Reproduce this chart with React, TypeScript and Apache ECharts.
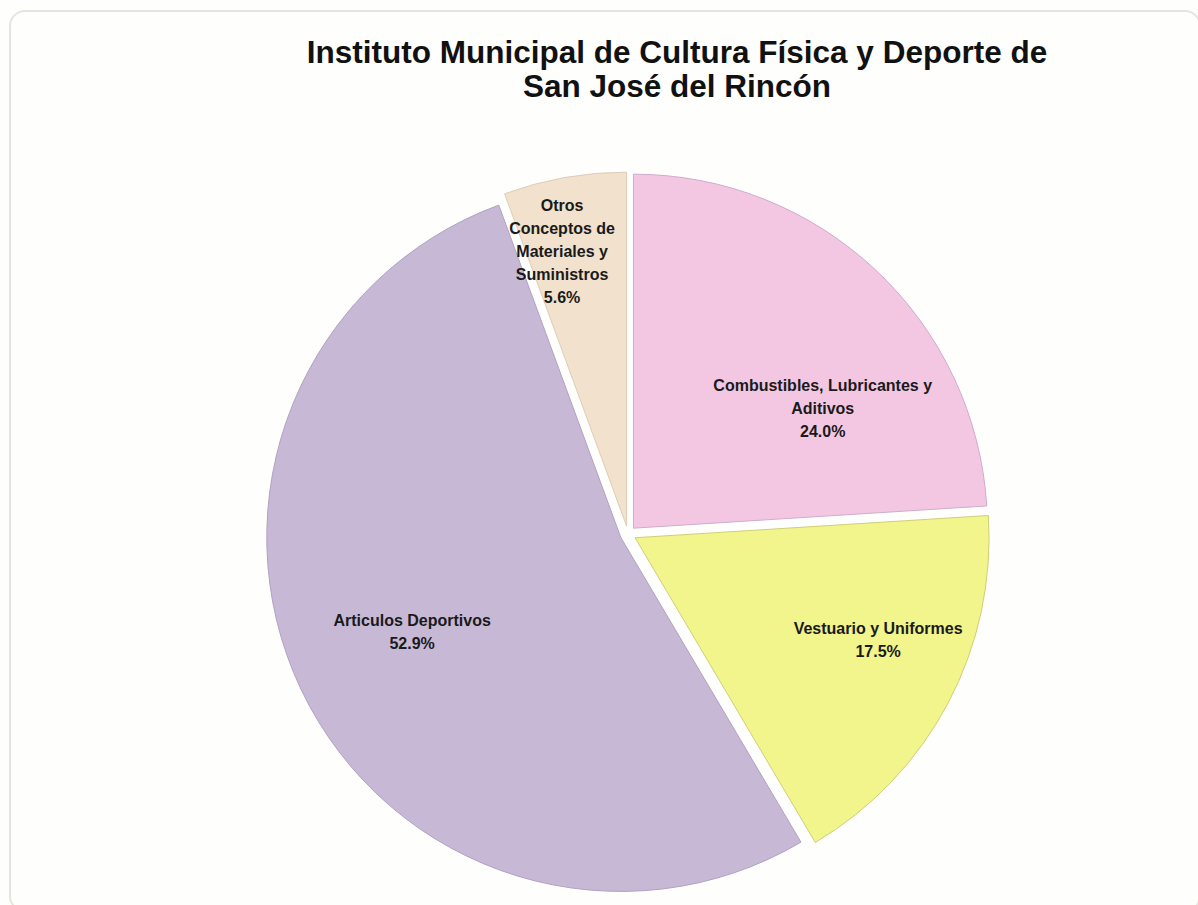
import React, { useEffect, useRef } from "react";
import * as echarts from "echarts";

const titleLines = [
  "Instituto Municipal de Cultura Física y Deporte de",
  "San José del Rincón",
];
const categories = [
  "Combustibles, Lubricantes y Aditivos",
  "Vestuario y Uniformes",
  "Articulos Deportivos",
  "Otros Conceptos de Materiales y Suministros",
];
const wrappedLabels = [
  "Combustibles, Lubricantes y\nAditivos",
  "Vestuario y Uniformes",
  "Articulos Deportivos",
  "Otros\nConceptos de\nMateriales y\nSuministros",
];
const percentages = [24.0, 17.5, 52.9, 5.6];

const colors = ["#F3C7E2", "#F2F48C", "#C7B9D6", "#F1E1CD"];
const borderColors = ["#cfaccb", "#cfcf78", "#b0a2c2", "#ddcdb8"];
const labelOffsets = [
  [66, 12],
  [84, 18],
  [-46, 17],
  [-33, -97],
];

export default function App() {
  const ref = useRef<HTMLDivElement>(null);
  useEffect(() => {
    const chart = echarts.init(ref.current!, null, { renderer: "svg" });
    chart.setOption({
      animation: false,
      backgroundColor: "#fefefd",
      title: {
        text: titleLines.join("\n"),
        left: 672,
        top: 30,
        textAlign: "center",
        textStyle: {
          fontFamily: "Liberation Sans, Arial, sans-serif",
          fontWeight: "bold",
          fontSize: 31.5,
          lineHeight: 34,
          color: "#111111",
        },
      },
      graphic: [
        {
          type: "rect",
          shape: { x: 10, y: 11, width: 1190, height: 900, r: 15 },
          style: { fill: "none", stroke: "#e6e4dc", lineWidth: 2 },
          silent: true,
        },
      ],
      series: [
        {
          type: "pie",
          center: [628, 534],
          radius: 354,
          startAngle: 90,
          clockwise: true,
          selectedMode: "multiple",
          selectedOffset: 8,
          emphasis: { disabled: true },
          labelLine: { show: false },
          labelLayout: (p: any) => ({
            dx: labelOffsets[p.dataIndex][0],
            dy: labelOffsets[p.dataIndex][1],
          }),
          data: categories.map((name, i) => ({
            name,
            value: percentages[i],
            selected: true,
            itemStyle: {
              color: colors[i],
              borderColor: borderColors[i],
              borderWidth: 1,
            },
            select: {
              itemStyle: {
                color: colors[i],
                borderColor: borderColors[i],
                borderWidth: 1,
              },
            },
          })),
          label: {
            show: true,
            position: "inside",
            fontFamily: "Liberation Sans, Arial, sans-serif",
            fontWeight: "bold",
            fontSize: 16,
            lineHeight: 23,
            color: "#1a1a1a",
            align: "center",
            formatter: (p: any) =>
              wrappedLabels[p.dataIndex] + "\n" + Number(p.value).toFixed(1) + "%",
          },
        },
      ],
    });
    return () => chart.dispose();
  }, []);
  return (
    <div
      ref={ref}
      style={{ position: "fixed", left: 0, top: 0, width: 1198, height: 905 }}
    />
  );
}
